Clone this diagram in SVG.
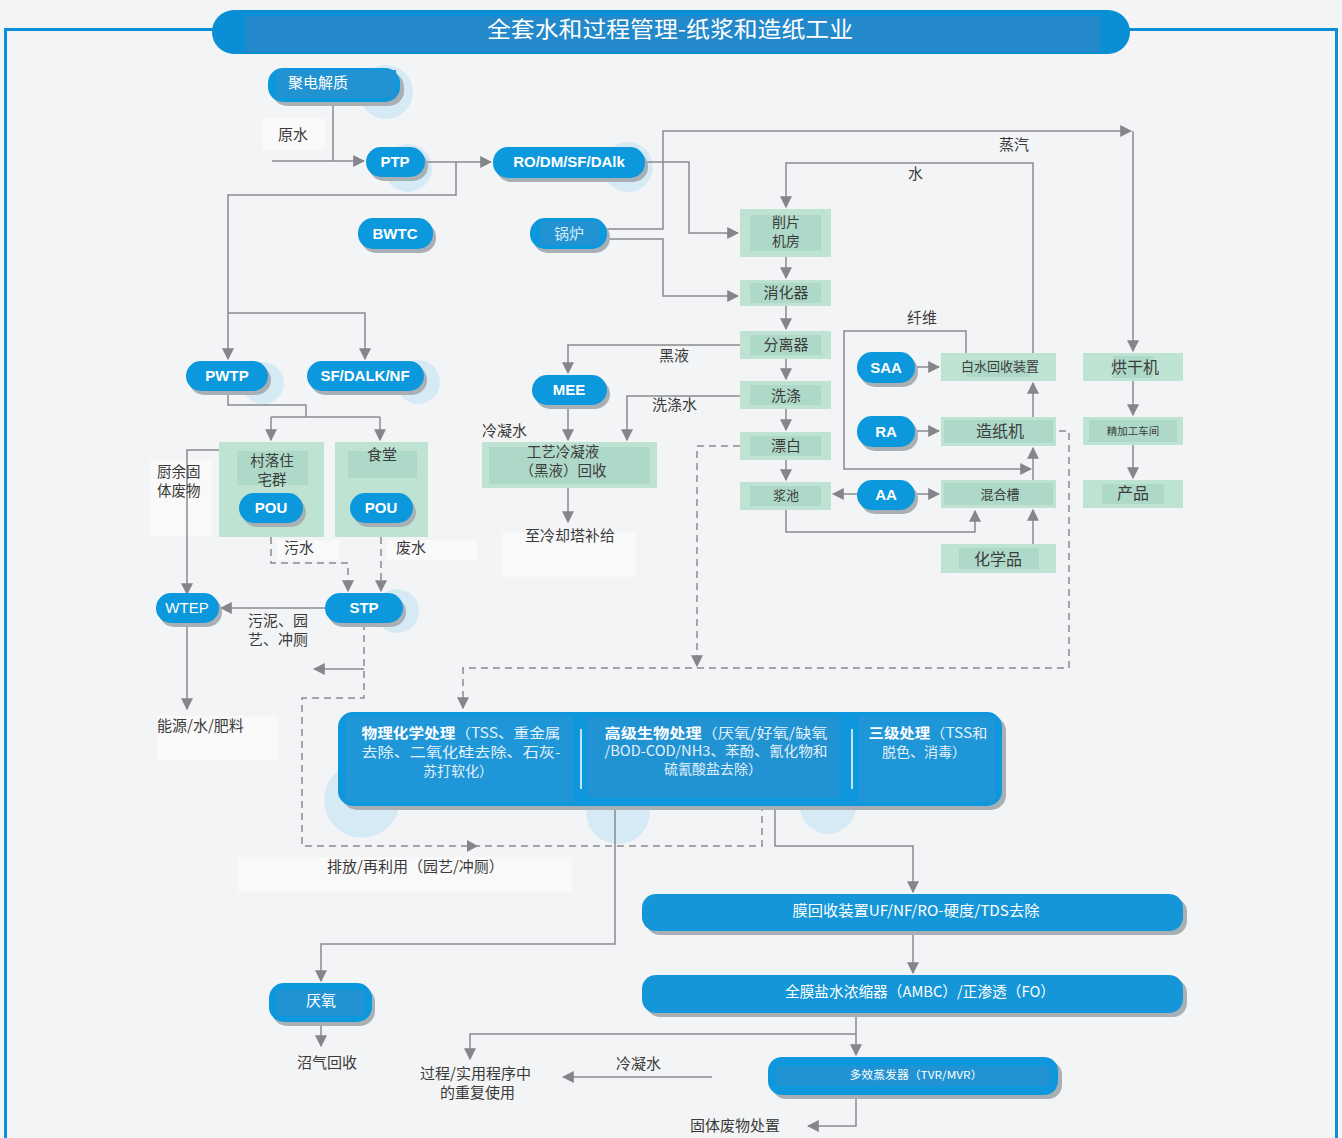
<svg xmlns="http://www.w3.org/2000/svg" width="1342" height="1138" viewBox="0 0 1342 1138">
<defs>
<marker id="ah" viewBox="0 0 10 10" refX="9" refY="5" markerWidth="12" markerHeight="12" markerUnits="userSpaceOnUse" orient="auto"><path d="M0,0 L10,5 L0,10 z" fill="#85868b"/></marker>
</defs>
<style>
.ln{fill:none;stroke:#8a8b90;stroke-width:1.5}
.dl{fill:none;stroke:#8a8b90;stroke-width:1.5;stroke-dasharray:7 5}
.pill{fill:#0c98dc}
.sh{fill:#a8b0b6}
.inn{fill:#2192d2}
.halo{fill:#d6eaf6}
.gb{fill:#bee3d3}
.gi{fill:#aed9c8}
.bt{font-family:"Liberation Sans",Arial,sans-serif;font-weight:bold;font-size:15px;fill:#fff;text-anchor:middle}
.wt{font-family:"Noto Sans CJK SC",sans-serif;font-size:15px;fill:#fff;text-anchor:middle}
.gt{font-family:"Noto Sans CJK SC",sans-serif;font-size:15px;fill:#3c3c3c;text-anchor:middle}
.lb{font-family:"Noto Sans CJK SC",sans-serif;font-size:15px;fill:#3a3a3a}
.bx{font-family:"Noto Sans CJK SC",sans-serif;font-size:14px;fill:#e3f1fa;text-anchor:middle}
.patch{fill:#f9f9f9}
</style>
<rect x="0" y="0" width="1342" height="1138" fill="#f3f4f5"/>
<path d="M5.5,1138 V29.5 H1336.5 V1138" fill="none" stroke="#0c8fd8" stroke-width="3"/>
<g id="title">
<rect x="212" y="10" width="918" height="44" rx="22" fill="#0a8fd6"/>
<rect x="245" y="16" width="855" height="36" fill="#2389cb"/>
<text x="670" y="37" font-family="'Noto Sans CJK SC',sans-serif" font-size="22" fill="#fff" text-anchor="middle" textLength="366" lengthAdjust="spacingAndGlyphs">全套水和过程管理-纸浆和造纸工业</text>
</g>

<g id="halos">
<circle class="halo" cx="386" cy="92" r="27"/>
<circle class="halo" cx="408" cy="168" r="24"/>
<circle class="halo" cx="628" cy="167" r="25"/>
<circle class="halo" cx="263" cy="383" r="21"/>
<circle class="halo" cx="418" cy="382" r="22"/>
<circle class="halo" cx="397" cy="611" r="22"/>
<circle class="halo" cx="362" cy="800" r="38"/>
<circle class="halo" cx="618" cy="812" r="32"/>
<circle class="halo" cx="828" cy="806" r="28"/>
</g>

<g id="patches">
<rect class="patch" x="262" y="118" width="63" height="32"/>
<rect class="patch" x="150" y="460" width="62" height="76"/>
<rect class="patch" x="277" y="540" width="62" height="20"/>
<rect class="patch" x="387" y="540" width="90" height="20"/>
<rect class="patch" x="157" y="716" width="121" height="44"/>
<rect class="patch" x="502" y="532" width="134" height="45"/>
<rect class="patch" x="238" y="857" width="334" height="35"/>
</g>

<g id="connectors">
<path class="ln" d="M333,102 V161"/>
<path class="ln" d="M272,161 H364" marker-end="url(#ah)"/>
<path class="ln" d="M425,162 H491" marker-end="url(#ah)"/>
<path class="ln" d="M456,162 V195 H228 V359" marker-end="url(#ah)"/>
<path class="ln" d="M228,313 H365 V359" marker-end="url(#ah)"/>
<path class="ln" d="M645,162 H689 V233 H738" marker-end="url(#ah)"/>
<path class="ln" d="M607,229 H663 V131 H1131" marker-end="url(#ah)"/>
<path class="ln" d="M1133,131 V351" marker-end="url(#ah)"/>
<path class="ln" d="M607,239 H663 V296 H738" marker-end="url(#ah)"/>
<path class="ln" d="M1033,353 V163 H786 V207" marker-end="url(#ah)"/>
<path class="ln" d="M786,257 V278" marker-end="url(#ah)"/>
<path class="ln" d="M786,306 V329" marker-end="url(#ah)"/>
<path class="ln" d="M786,359 V379" marker-end="url(#ah)"/>
<path class="ln" d="M786,409 V430" marker-end="url(#ah)"/>
<path class="ln" d="M786,460 V480" marker-end="url(#ah)"/>
<path class="ln" d="M740,345 H568 V373" marker-end="url(#ah)"/>
<path class="ln" d="M740,396 H627 V440" marker-end="url(#ah)"/>
<path class="ln" d="M568,405 V440" marker-end="url(#ah)"/>
<path class="ln" d="M568,488 V522" marker-end="url(#ah)"/>
<path class="ln" d="M786,510 V532 H975 V511" marker-end="url(#ah)"/>
<path class="ln" d="M857,494 H833" marker-end="url(#ah)"/>
<path class="ln" d="M915,494 H939" marker-end="url(#ah)"/>
<path class="ln" d="M915,367 H939" marker-end="url(#ah)"/>
<path class="ln" d="M915,431 H939" marker-end="url(#ah)"/>
<path class="ln" d="M1033,544 V510" marker-end="url(#ah)"/>
<path class="ln" d="M1033,480 V448" marker-end="url(#ah)"/>
<path class="ln" d="M1033,417 V383" marker-end="url(#ah)"/>
<path class="ln" d="M966,353 V331 H844 V469 H1031" marker-end="url(#ah)"/>
<path class="ln" d="M1133,381 V415" marker-end="url(#ah)"/>
<path class="ln" d="M1133,445 V478" marker-end="url(#ah)"/>
<path class="dl" d="M740,446 H697 V666" marker-end="url(#ah)"/>
<path class="dl" d="M1059,431 H1069 V668 H463 V708" marker-end="url(#ah)"/>
<path class="ln" d="M228,391 V405 H306 V417"/>
<path class="ln" d="M271,417 H380"/>
<path class="ln" d="M271,417 V440" marker-end="url(#ah)"/>
<path class="ln" d="M380,417 V440" marker-end="url(#ah)"/>
<path class="ln" d="M219,450 H187 V594" marker-end="url(#ah)"/>
<path class="dl" d="M271,537 V563 H348 V591" marker-end="url(#ah)"/>
<path class="dl" d="M381,537 V591" marker-end="url(#ah)"/>
<path class="ln" d="M325,608 H221" marker-end="url(#ah)"/>
<path class="ln" d="M187,623 V709" marker-end="url(#ah)"/>
<path class="dl" d="M364,623 V698 H302 V846 H762 V807"/>
<path d="M467,840 L478,846 L467,852 z" fill="#85868b"/>
<path class="ln" d="M364,669 H314" marker-end="url(#ah)"/>
<path class="ln" d="M615,806 V944 H321 V981" marker-end="url(#ah)"/>
<path class="ln" d="M775,806 V846 H913 V892" marker-end="url(#ah)"/>
<path class="ln" d="M913,931 V973" marker-end="url(#ah)"/>
<path class="ln" d="M856,1013 V1055" marker-end="url(#ah)"/>
<path class="ln" d="M856,1034 H470 V1059" marker-end="url(#ah)"/>
<path class="ln" d="M712,1077 H563" marker-end="url(#ah)"/>
<path class="ln" d="M856,1095 V1126 H808" marker-end="url(#ah)"/>
<path class="ln" d="M321,1022 V1046" marker-end="url(#ah)"/>
</g>

<g id="n-polyelectrolyte">
<rect class="sh" x="272" y="72" width="132" height="34" rx="15"/>
<rect class="pill" x="268" y="68" width="132" height="34" rx="15"/>
<rect class="inn" x="276" y="70" width="120" height="28"/>
<text class="wt" x="318" y="88">聚电解质</text>
</g>
<g id="n-ptp">
<rect class="sh" x="369" y="151" width="59" height="30" rx="15"/>
<rect class="pill" x="366" y="147" width="59" height="30" rx="15"/>
<text class="bt" x="395" y="167">PTP</text>
</g>
<g id="n-ro">
<rect class="sh" x="496" y="151" width="152" height="31" rx="15"/>
<rect class="pill" x="493" y="147" width="152" height="31" rx="15"/>
<text class="bt" x="569" y="167">RO/DM/SF/DAlk</text>
</g>
<g id="n-bwtc">
<rect class="sh" x="361" y="222" width="75" height="31" rx="15"/>
<rect class="pill" x="358" y="218" width="75" height="31" rx="15"/>
<text class="bt" x="395" y="239">BWTC</text>
</g>
<g id="n-boiler">
<rect class="sh" x="533" y="222" width="77" height="31" rx="15"/>
<rect class="pill" x="530" y="218" width="77" height="31" rx="15"/>
<rect class="inn" x="540" y="221" width="60" height="24"/>
<text class="wt" x="569" y="239" style="fill:#d9ecf8">锅炉</text>
</g>
<g id="n-pwtp">
<rect class="sh" x="189" y="365" width="82" height="30" rx="15"/>
<rect class="pill" x="186" y="361" width="82" height="30" rx="15"/>
<text class="bt" x="227" y="381">PWTP</text>
</g>
<g id="n-sf">
<rect class="sh" x="310" y="365" width="117" height="30" rx="15"/>
<rect class="pill" x="307" y="361" width="117" height="30" rx="15"/>
<text class="bt" x="365" y="381">SF/DALK/NF</text>
</g>
<g id="n-mee">
<rect class="sh" x="535" y="379" width="75" height="30" rx="15"/>
<rect class="pill" x="532" y="375" width="75" height="30" rx="15"/>
<text class="bt" x="569" y="395">MEE</text>
</g>
<g id="n-saa">
<rect class="sh" x="860" y="356" width="58" height="31" rx="15"/>
<rect class="pill" x="857" y="352" width="58" height="31" rx="15"/>
<text class="bt" x="886" y="373">SAA</text>
</g>
<g id="n-ra">
<rect class="sh" x="860" y="420" width="58" height="31" rx="15"/>
<rect class="pill" x="857" y="416" width="58" height="31" rx="15"/>
<text class="bt" x="886" y="437">RA</text>
</g>
<g id="n-aa">
<rect class="sh" x="860" y="484" width="58" height="30" rx="15"/>
<rect class="pill" x="857" y="480" width="58" height="30" rx="15"/>
<text class="bt" x="886" y="500">AA</text>
</g>
<g id="n-stp">
<rect class="sh" x="328" y="597" width="78" height="30" rx="15"/>
<rect class="pill" x="325" y="593" width="78" height="30" rx="15"/>
<text class="bt" x="364" y="613">STP</text>
</g>
<g id="n-wtep">
<rect class="sh" x="159" y="597" width="63" height="30" rx="15"/>
<rect class="pill" x="156" y="593" width="63" height="30" rx="15"/>
<text x="187" y="613" font-family="'Liberation Sans',Arial,sans-serif" font-size="15" fill="#fff" text-anchor="middle">WTEP</text>
</g>
<g id="n-anaerobic">
<rect class="sh" x="272" y="987" width="103" height="39" rx="15"/>
<rect class="pill" x="269" y="983" width="103" height="39" rx="15"/>
<rect class="inn" x="276" y="990" width="89" height="26"/>
<text class="wt" x="321" y="1006">厌氧</text>
</g>

<g id="n-chip">
<rect class="gb" x="740" y="209" width="91" height="48"/>
<rect class="gi" x="750" y="215" width="71" height="36"/>
<text class="gt" x="786" y="227" style="font-size:14px">削片</text>
<text class="gt" x="786" y="246" style="font-size:14px">机房</text>
</g>
<g id="n-digester">
<rect class="gb" x="740" y="280" width="91" height="26"/>
<rect class="gi" x="750" y="283" width="71" height="20"/>
<text class="gt" x="786" y="298">消化器</text>
</g>
<g id="n-separator">
<rect class="gb" x="740" y="331" width="91" height="28"/>
<rect class="gi" x="750" y="335" width="71" height="20"/>
<text class="gt" x="786" y="350">分离器</text>
</g>
<g id="n-wash">
<rect class="gb" x="740" y="381" width="91" height="28"/>
<rect class="gi" x="750" y="385" width="71" height="20"/>
<text class="gt" x="786" y="401">洗涤</text>
</g>
<g id="n-bleach">
<rect class="gb" x="740" y="432" width="91" height="28"/>
<rect class="gi" x="750" y="436" width="71" height="20"/>
<text class="gt" x="786" y="451">漂白</text>
</g>
<g id="n-pulpchest">
<rect class="gb" x="740" y="482" width="91" height="28"/>
<rect class="gi" x="750" y="486" width="71" height="20"/>
<text class="gt" x="786" y="500" style="font-size:13px">浆池</text>
</g>
<g id="n-whitewater">
<rect class="gb" x="941" y="353" width="115" height="28"/>
<rect class="gi" x="966" y="360" width="64" height="17"/>
<text class="gt" x="1000" y="371" style="font-size:13px">白水回收装置</text>
</g>
<g id="n-papermachine">
<rect class="gb" x="941" y="417" width="115" height="29"/>
<rect class="gi" x="944" y="420" width="109" height="23"/>
<text class="gt" x="1000" y="437" style="font-size:16px">造纸机</text>
</g>
<g id="n-mixtank">
<rect class="gb" x="941" y="480" width="115" height="28"/>
<rect class="gi" x="944" y="483" width="109" height="22"/>
<text class="gt" x="1000" y="499" style="font-size:13px">混合槽</text>
</g>
<g id="n-chemicals">
<rect class="gb" x="941" y="544" width="115" height="29"/>
<rect class="gi" x="959" y="548" width="80" height="21"/>
<text class="gt" x="998" y="565" style="font-size:16px">化学品</text>
</g>
<g id="n-dryer">
<rect class="gb" x="1083" y="353" width="100" height="28"/>
<rect class="gi" x="1113" y="356" width="40" height="22"/>
<text class="gt" x="1135" y="373" style="font-size:16px">烘干机</text>
</g>
<g id="n-finishing">
<rect class="gb" x="1083" y="417" width="100" height="28"/>
<rect class="gi" x="1089" y="420" width="88" height="22"/>
<text class="gt" x="1133" y="435" style="font-size:10.5px">精加工车间</text>
</g>
<g id="n-product">
<rect class="gb" x="1083" y="480" width="100" height="28"/>
<rect class="gi" x="1102" y="484" width="62" height="20"/>
<text class="gt" x="1133" y="499" style="font-size:16px">产品</text>
</g>
<g id="n-condensate">
<rect class="gb" x="482" y="442" width="175" height="46"/>
<rect class="gi" x="489" y="447" width="161" height="37"/>
<text class="gt" x="563" y="457" style="font-size:14.5px">工艺冷凝液</text>
<text class="gt" x="563" y="476" style="font-size:14.5px">（黑液）回收</text>
</g>
<g id="n-village">
<rect class="gb" x="219" y="442" width="105" height="95"/>
<rect class="gi" x="237" y="451" width="71" height="34"/>
<text class="gt" x="272" y="466" style="font-size:14.5px">村落住</text>
<text class="gt" x="272" y="485" style="font-size:14.5px">宅群</text>
<rect class="sh" x="242" y="497" width="64" height="30" rx="15"/>
<rect class="pill" x="239" y="493" width="64" height="30" rx="15"/>
<text class="bt" x="271" y="513">POU</text>
</g>
<g id="n-canteen">
<rect class="gb" x="335" y="442" width="93" height="95"/>
<rect class="gi" x="348" y="451" width="69" height="27"/>
<text class="gt" x="382" y="460">食堂</text>
<rect class="sh" x="353" y="497" width="63" height="30" rx="15"/>
<rect class="pill" x="350" y="493" width="63" height="30" rx="15"/>
<text class="bt" x="381" y="513">POU</text>
</g>

<g id="n-treatment">
<rect x="342" y="716" width="664" height="94" rx="15" fill="#a8b0b6"/>
<rect x="338" y="712" width="664" height="94" rx="15" fill="#0e97dc"/>
<rect x="345" y="716" width="228" height="86" fill="#1f96d8"/>
<rect x="587" y="717" width="252" height="81" fill="#2192d2"/>
<rect x="859" y="716" width="136" height="86" fill="#1f96d8"/>
<line x1="581" y1="729" x2="581" y2="789" stroke="#fff" stroke-width="1.5"/>
<line x1="852" y1="729" x2="852" y2="789" stroke="#fff" stroke-width="1.5"/>
<text class="bx" x="461" y="738" textLength="199" lengthAdjust="spacingAndGlyphs"><tspan font-weight="bold" fill="#fff">物理化学处理</tspan>（TSS、重金属</text>
<text class="bx" x="461" y="757" textLength="199" lengthAdjust="spacingAndGlyphs">去除、二氧化硅去除、石灰-</text>
<text class="bx" x="458" y="776">苏打软化）</text>
<text class="bx" x="716" y="738" textLength="223" lengthAdjust="spacingAndGlyphs"><tspan font-weight="bold" fill="#fff">高级生物处理</tspan>（厌氧/好氧/缺氧</text>
<text class="bx" x="716" y="756" textLength="223" lengthAdjust="spacingAndGlyphs">/BOD-COD/NH3、苯酚、氰化物和</text>
<text class="bx" x="713" y="774">硫氰酸盐去除）</text>
<text class="bx" x="928" y="738" textLength="119" lengthAdjust="spacingAndGlyphs"><tspan font-weight="bold" fill="#fff">三级处理</tspan>（TSS和</text>
<text class="bx" x="924" y="757">脱色、消毒）</text>
</g>
<g id="n-membrane">
<rect x="646" y="898" width="541" height="37" rx="14" fill="#a8b0b6"/>
<rect x="642" y="894" width="541" height="37" rx="14" fill="#1496d8"/>
<text class="wt" x="916" y="916" textLength="247" lengthAdjust="spacingAndGlyphs">膜回收装置UF/NF/RO-硬度/TDS去除</text>
</g>
<g id="n-ambc">
<rect x="646" y="979" width="541" height="38" rx="14" fill="#a8b0b6"/>
<rect x="642" y="975" width="541" height="38" rx="14" fill="#1496d8"/>
<text class="wt" x="920" y="997" textLength="270" lengthAdjust="spacingAndGlyphs">全膜盐水浓缩器（AMBC）/正渗透（FO）</text>
</g>
<g id="n-mee2">
<rect x="772" y="1061" width="290" height="38" rx="14" fill="#a8b0b6"/>
<rect x="768" y="1057" width="290" height="38" rx="14" fill="#0e97dc"/>
<rect x="776" y="1066" width="274" height="20" fill="#2192d2"/>
<text class="wt" x="916" y="1079" style="font-size:11px" textLength="133" lengthAdjust="spacingAndGlyphs">多效蒸发器（TVR/MVR）</text>
</g>

<g id="labels">
<text class="lb" x="278" y="140">原水</text>
<text class="lb" x="999" y="150">蒸汽</text>
<text class="lb" x="908" y="179">水</text>
<text class="lb" x="907" y="323">纤维</text>
<text class="lb" x="659" y="361">黑液</text>
<text class="lb" x="652" y="410">洗涤水</text>
<text class="lb" x="482" y="436">冷凝水</text>
<text class="lb" x="525" y="541">至冷却塔补给</text>
<text class="lb" x="157" y="477" style="font-size:14.5px">厨余固</text>
<text class="lb" x="157" y="496" style="font-size:14.5px">体废物</text>
<text class="lb" x="284" y="553">污水</text>
<text class="lb" x="396" y="553">废水</text>
<text class="lb" x="248" y="626">污泥、园</text>
<text class="lb" x="248" y="645">艺、冲厕</text>
<text class="lb" x="157" y="731">能源/水/肥料</text>
<text class="lb" x="327" y="872">排放/再利用（园艺/冲厕）</text>
<text class="lb" x="297" y="1068">沼气回收</text>
<text class="lb" x="616" y="1069">冷凝水</text>
<text class="lb" x="420" y="1079">过程/实用程序中</text>
<text class="lb" x="440" y="1098">的重复使用</text>
<text class="lb" x="690" y="1131">固体废物处置</text>
</g>
</svg>
